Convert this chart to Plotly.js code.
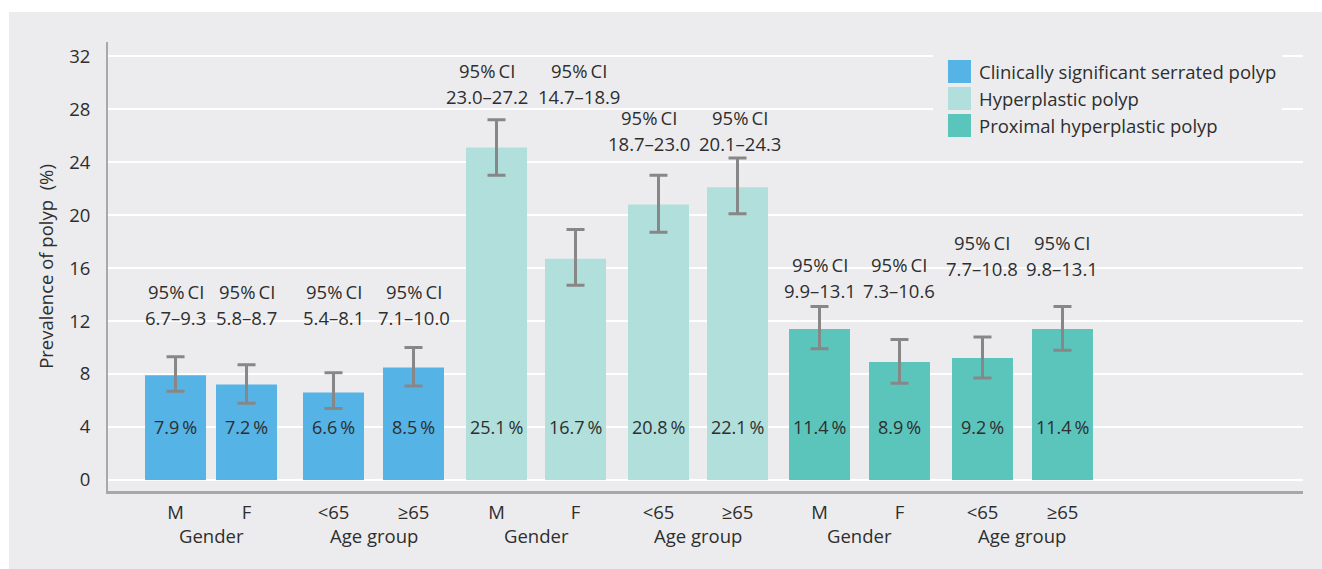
<!DOCTYPE html>
<html><head><meta charset="utf-8">
<script src="https://cdn.plot.ly/plotly-3.0.1.min.js"></script>
<style>html,body{margin:0;padding:0;background:#fff;}#chart{position:absolute;left:9px;top:12px;width:1313px;height:557px;}</style>
</head><body><div id="chart"></div><script>
// ---- data ----
const seriesNames = ['Clinically significant serrated polyp', 'Hyperplastic polyp', 'Proximal hyperplastic polyp'];
const categories = ['M', 'F', '<65', '≥65'];
const groupLabels = ['Gender', 'Age group'];
const csspValue = [7.9, 7.2, 6.6, 8.5];
const csspLow   = [6.7, 5.8, 5.4, 7.1];
const csspHigh  = [9.3, 8.7, 8.1, 10.0];
const hpValue   = [25.1, 16.7, 20.8, 22.1];
const hpLow     = [23.0, 14.7, 18.7, 20.1];
const hpHigh    = [27.2, 18.9, 23.0, 24.3];
const phpValue  = [11.4, 8.9, 9.2, 11.4];
const phpLow    = [9.9, 7.3, 7.7, 9.8];
const phpHigh   = [13.1, 10.6, 10.8, 13.1];
const yTicks    = [0, 4, 8, 12, 16, 20, 24, 28, 32];

// ---- layout config ----
const colors = ['#55b3e6', '#b1dfdb', '#5bc5bc'];
const slotPos = [[0, 0.8875, 1.975, 2.975], [4.0125, 5.0, 6.0375, 7.025], [8.05, 9.05, 10.0875, 11.0875]];
const ciLevel = [[12.23, 12.23, 12.23, 12.23], [28.93, 28.93, 25.41, 25.41], [14.34, 14.34, 15.98, 15.98]];
const ciShift = [[0, 0, 0, 0], [-10, 3, -10, 2], [0, 0, 0, 0]];
const FONT = 'Open Sans, sans-serif';
const TXT = '#2e2e2e';
const FS = 18.5;

const values = [csspValue, hpValue, phpValue];
const lows = [csspLow, hpLow, phpLow];
const highs = [csspHigh, hpHigh, phpHigh];

const fmt = v => v.toFixed(1);
const traces = [];
const annotations = [];
const tickvals = [], ticktext = [];

for (let s = 0; s < 3; s++) {
  const v = values[s];
  traces.push({
    type: 'bar',
    name: seriesNames[s],
    x: slotPos[s],
    y: v,
    width: 0.7625,
    marker: {color: colors[s], line: {width: 0}},
    error_y: {
      type: 'data', symmetric: false,
      array: v.map((d, i) => +(highs[s][i] - d).toFixed(2)),
      arrayminus: v.map((d, i) => +(d - lows[s][i]).toFixed(2)),
      color: '#878787', thickness: 3, width: 9
    },
    hoverinfo: 'skip',
    showlegend: false
  });
  for (let i = 0; i < 4; i++) {
    const x = slotPos[s][i];
    tickvals.push(x); ticktext.push(categories[i]);
    annotations.push({x: x, y: 4, xref: 'x', yref: 'y', text: fmt(v[i]) + '\u2009%', showarrow: false,
      font: {family: FONT, size: 18, color: TXT}, xanchor: 'center', yanchor: 'middle'});
    annotations.push({x: x, y: ciLevel[s][i], xref: 'x', yref: 'y', xshift: ciShift[s][i], text: fmt(lows[s][i]) + '–' + fmt(highs[s][i]),
      showarrow: false, font: {family: FONT, size: FS, color: TXT}, xanchor: 'center', yanchor: 'middle'});
    annotations.push({x: x, y: ciLevel[s][i], xref: 'x', yref: 'y', xshift: ciShift[s][i], yshift: 26, text: '95%\u2009CI',
      showarrow: false, font: {family: FONT, size: FS, color: TXT}, xanchor: 'center', yanchor: 'middle'});
  }
  for (let g = 0; g < 2; g++) {
    annotations.push({x: (slotPos[s][2 * g] + slotPos[s][2 * g + 1]) / 2, y: -0.1002, xref: 'x', yref: 'paper',
      text: groupLabels[g], showarrow: false, font: {family: FONT, size: FS, color: TXT}, xanchor: 'center', yanchor: 'middle'});
  }
}

// custom legend
const shapes = [{type: 'rect', xref: 'paper', yref: 'paper', x0: 0.6904, x1: 0.9824, y0: 0.759, y1: 1.0,
  fillcolor: '#ececee', line: {width: 0}, layer: 'above'}];
const legY = [0.9343, 0.8742, 0.814];
for (let s = 0; s < 3; s++) {
  shapes.push({type: 'rect', xref: 'paper', yref: 'paper', x0: 0.7029, x1: 0.7222, y0: legY[s] - 0.0256, y1: legY[s] + 0.0256,
    fillcolor: colors[s], line: {width: 0}, layer: 'above'});
  annotations.push({x: 0.7275, y: legY[s], xref: 'paper', yref: 'paper', text: seriesNames[s], showarrow: false,
    font: {family: FONT, size: FS, color: TXT}, xanchor: 'left', yanchor: 'middle'});
}

const layout = {
  width: 1313, height: 557,
  margin: {l: 99, r: 19, t: 30, b: 78, pad: 0},
  paper_bgcolor: '#ececee', plot_bgcolor: '#ececee',
  font: {family: FONT, size: FS, color: TXT},
  barmode: 'overlay',
  showlegend: false,
  xaxis: {range: [-0.844, 14.094], tickvals: tickvals, ticktext: ticktext, showgrid: false, zeroline: false,
    showline: true, linecolor: '#a8a8a8', linewidth: 3, ticks: '', ticklabelstandoff: 3,
    tickfont: {family: FONT, size: FS, color: TXT}, fixedrange: true},
  yaxis: {range: [-0.83, 33.06], tickvals: yTicks, ticktext: yTicks.map(String), showgrid: true, gridcolor: '#ffffff', gridwidth: 2,
    zeroline: false, showline: true, linecolor: '#a8a8a8', linewidth: 2, ticks: '', ticklabelstandoff: 12,
    tickfont: {family: FONT, size: FS, color: TXT},
    title: {text: 'Prevalence of polyp\u00a0 (%)', font: {family: FONT, size: FS, color: TXT}, standoff: 11}, fixedrange: true},
  shapes: shapes,
  annotations: annotations
};
Plotly.newPlot('chart', traces, layout, {displayModeBar: false, staticPlot: true});
</script></body></html>
